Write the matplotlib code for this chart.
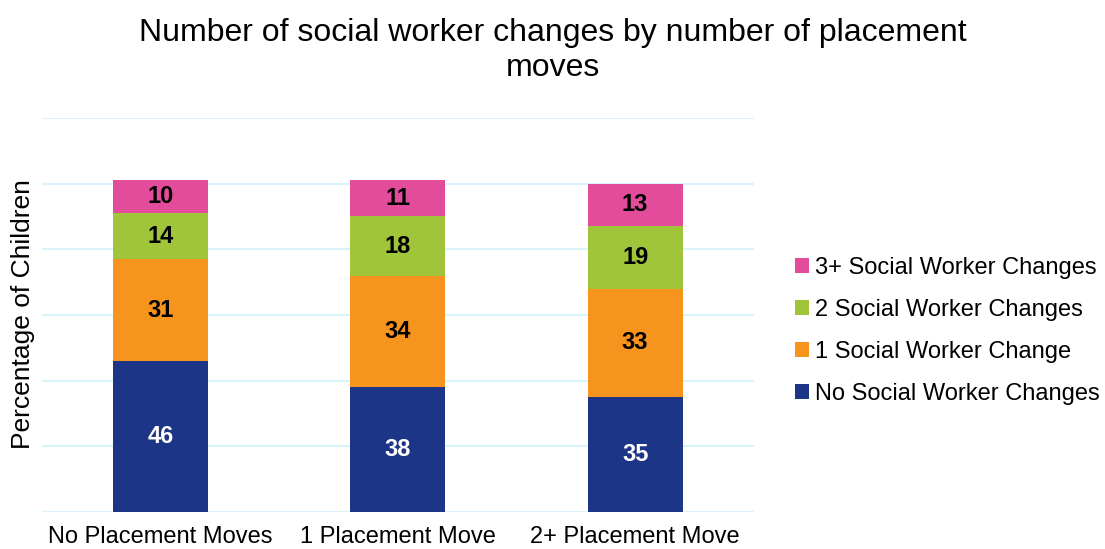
import numpy as np
import matplotlib
matplotlib.use('Agg')
import matplotlib.pyplot as plt

# placement move groups and the share of children by social worker changes
categories = ['No Placement Moves', '1 Placement Move', '2+ Placement Move']
no_changes = [46, 38, 35]
one_change = [31, 34, 33]
two_changes = [14, 18, 19]
three_plus = [10, 11, 13]

series_names = ['No Social Worker Changes', '1 Social Worker Change',
                '2 Social Worker Changes', '3+ Social Worker Changes']
series_vals = [no_changes, one_change, two_changes, three_plus]
colours = ['#1D3586', '#F7941E', '#A0C43A', '#E34C9A']
label_colours = ['white', 'black', 'black', 'black']

plt.rcParams['font.family'] = ['Liberation Sans', 'DejaVu Sans']

fig = plt.figure(figsize=(11.05, 5.49), dpi=100)
ax = fig.add_axes([0.0377, 0.0674, 0.6445, 0.7177])

x = np.arange(len(categories))
bottom = np.zeros(len(categories))
handles = []
for name, vals, col, lc in zip(series_names, series_vals, colours, label_colours):
    vals = np.array(vals)
    b = ax.bar(x, vals, width=0.4, bottom=bottom, color=col, label=name, zorder=3)
    handles.append(b)
    for xi, v, bt in zip(x, vals, bottom):
        ax.text(xi, bt + v / 2, str(v), ha='center', va='center',
                fontsize=17, fontweight='bold', color=lc, zorder=4)
    bottom = bottom + vals

ax.set_xlim(-0.5, 2.5)
ax.set_ylim(0, 120)
ax.set_yticks(np.arange(0, 121, 20))
ax.yaxis.grid(True, color='#D9F3FA', linewidth=1.5, zorder=0)
ax.set_yticklabels([])
ax.tick_params(axis='both', length=0)
ax.tick_params(axis='x', pad=10, labelsize=17)
ax.set_xticks(x)
ax.set_xticklabels(categories)
for s in ax.spines.values():
    s.set_visible(False)
ax.set_axisbelow(True)

fig.text(0.0205, 0.428, 'Percentage of Children', rotation=90, ha='center',
         va='center', fontsize=19)

fig.text(0.5, 1 - 33 / 549, 'Number of social worker changes by number of placement',
         ha='center', va='center', fontsize=23)
fig.text(0.5, 1 - 68 / 549, 'moves', ha='center', va='center', fontsize=23)

leg = fig.legend(handles[::-1], series_names[::-1], loc='center left',
                 bbox_to_anchor=(0.700, 1 - 331 / 549), frameon=False,
                 fontsize=17, handlelength=0.6, handleheight=0.6,
                 handletextpad=0.25, labelspacing=0.85)

fig.savefig('out.png', dpi=100)
